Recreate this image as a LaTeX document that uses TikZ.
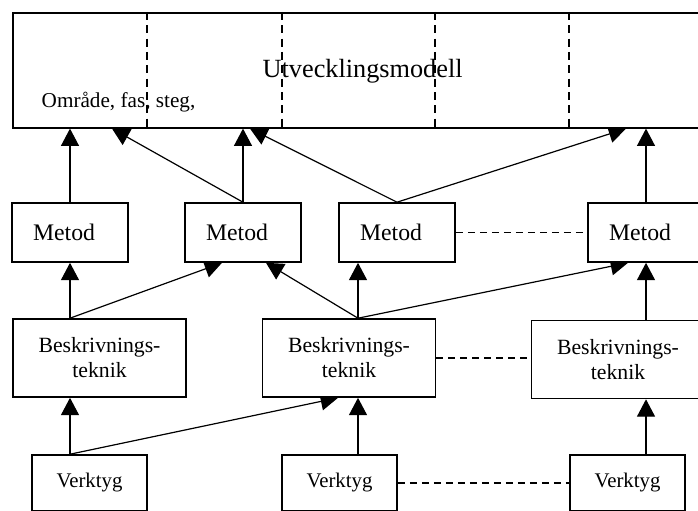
\documentclass[tikz,border=0pt]{standalone}
\usepackage{fontspec}
\setmainfont{Liberation Serif}
\usetikzlibrary{arrows.meta}
\pgfdeclarelayer{bg}
\pgfsetlayers{bg,main}
\begin{document}
\begin{tikzpicture}[x=0.75pt,y=-0.75pt,
  box/.style={draw, fill=white, line width=1.2pt, inner sep=0pt},
  metod/.style={box, minimum width=87pt, minimum height=44.25pt,
    font=\fontsize{17.8}{20}\selectfont, execute at end node={\hspace*{9pt}}},
  teknik/.style={box, minimum width=129.75pt, minimum height=58.5pt,
    align=center, font=\fontsize{16.3}{18.8}\selectfont},
  verktyg/.style={box, minimum width=86.25pt, minimum height=42pt,
    font=\fontsize{15.6}{18}\selectfont},
  arr/.style={-{Triangle[length=13pt,width=13.5pt]}, line width=0.9pt},
  link/.style={line width=0.95pt, dash pattern=on 5.25pt off 3.75pt},
  divider/.style={line width=2.2pt, dash pattern=on 6pt off 4pt},
]
\useasboundingbox (0,0) rectangle (698,510);
\clip (0,0) rectangle (698,510);

% development model frame with its phase dividers
\node[box, anchor=north west, minimum width=531pt, minimum height=86.25pt] (model) at (12,12) {};
\node[anchor=base west, font=\fontsize{19.7}{22}\selectfont] (modelname) at (258,77) {Utvecklingsmodell};
\node[anchor=base west, font=\fontsize{15.9}{18}\selectfont] (levels) at (37,107) {Område, fas, steg,};
\foreach \x [count=\i] in {147,282,435,569} \coordinate (d\i) at (\x,0);
\foreach \i in {1,...,4} \draw[divider] (model.north -| d\i) -- (model.south -| d\i);

% methods
\node[metod] (m1) at (70,232.5) {Metod};
\node[metod] (m2) at (243,232.5) {Metod};
\node[metod] (m3) at (397,232.5) {Metod};
\node[metod] (m4) at (646,232.5) {Metod};

% description techniques
\node[teknik] (b1) at (99.5,358) {Beskrivnings-\\teknik};
\node[teknik] (b2) at (349,358) {Beskrivnings-\\teknik};
\node[teknik] (b3) at (618,359.5) {Beskrivnings-\\teknik};

% tools
\node[verktyg] (v1) at (89.5,483) {Verktyg};
\node[verktyg] (v2) at (339.5,483) {Verktyg};
\node[verktyg] (v3) at (627.5,483) {Verktyg};

% vertical columns where connectors meet the boxes
\coordinate (c1) at (70,0);
\coordinate (c3) at (358,0);
\coordinate (c4) at (646,0);
% entry points of slanted connectors
\coordinate (e1) at (112,0);
\coordinate (e2) at (250,0);
\coordinate (e3) at (626,0);
\coordinate (e4) at (222,0);
\coordinate (e5) at (266,0);
\coordinate (e6) at (628,0);
\coordinate (e7) at (338,0);

\begin{pgfonlayer}{bg}
  % methods -> model
  \draw[arr] (m1.north) -- (model.south -| m1.north);
  \draw[arr] (m2.north) -- (model.south -| m2.north);
  \draw[arr] (m2.north) -- (model.south -| e1);
  \draw[arr] (m3.north) -- (model.south -| e2);
  \draw[arr] (m3.north) -- (model.south -| e3);
  \draw[arr] (m4.north) -- (model.south -| m4.north);
  % techniques -> methods
  \draw[arr] (b1.north -| c1) -- (m1.south -| c1);
  \draw[arr] (b1.north -| c1) -- (m2.south -| e4);
  \draw[arr] (b2.north -| c3) -- (m2.south -| e5);
  \draw[arr] (b2.north -| c3) -- (m3.south -| c3);
  \draw[arr] (b2.north -| c3) -- (m4.south -| e6);
  \draw[arr] (b3.north -| c4) -- (m4.south -| c4);
  % tools -> techniques
  \draw[arr] (v1.north -| c1) -- (b1.south -| c1);
  \draw[arr] (v1.north -| c1) -- (b2.south -| e7);
  \draw[arr] (v2.north -| c3) -- (b2.south -| c3);
  \draw[arr] (v3.north -| c4) -- (b3.south -| c4);
\end{pgfonlayer}

% loose associations
\draw[link] (m3.east) -- (m4.west);
\draw[link] (b2.east) -- (b3.west |- b2.east);
\draw[link] (v2.east) -- (v3.west);
\end{tikzpicture}
\end{document}
